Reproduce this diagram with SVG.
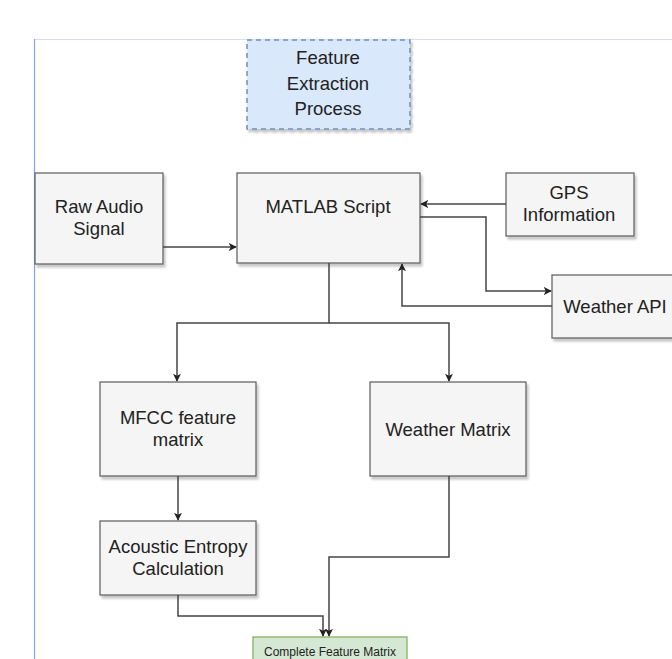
<svg xmlns="http://www.w3.org/2000/svg" width="672" height="659" viewBox="0 0 672 659">
<style>
.box{fill:#f5f5f5;stroke:#666666;stroke-width:1.3;filter:url(#sh)}
.t{font-family:"Liberation Sans",Arial,sans-serif;font-size:18.5px;fill:#222;text-anchor:middle;dominant-baseline:central}
.c{fill:none;stroke:#444;stroke-width:1.5}
</style>
<defs>
<filter id="sh" x="-10%" y="-10%" width="130%" height="130%">
<feDropShadow dx="2" dy="3" stdDeviation="1.2" flood-color="#000" flood-opacity="0.22"/>
</filter>
<marker id="a" viewBox="0 0 10 10" refX="9" refY="5" markerWidth="8" markerHeight="8" markerUnits="userSpaceOnUse" orient="auto">
<path d="M0,0 L10,5 L0,10 L2.5,5 Z" fill="#222"/>
</marker>
</defs>
<rect width="672" height="659" fill="#fff"/>
<line x1="34" y1="39.5" x2="672" y2="39.5" stroke="#d3def2" stroke-width="1"/>
<line x1="34.5" y1="39" x2="34.5" y2="659" stroke="#7ba6f2" stroke-width="1.2"/>

<g id="feature-extraction">
<rect x="247" y="40" width="163" height="89" fill="#dae8fc" stroke="#6c8ebf" stroke-width="1.5" stroke-dasharray="5,4" filter="url(#sh)"/>
<text class="t" x="328" y="57">Feature</text>
<text class="t" x="328" y="83">Extraction</text>
<text class="t" x="328" y="108">Process</text>
</g>

<g id="raw-audio">
<rect class="box" x="35" y="173" width="128" height="91"/>
<text class="t" x="99" y="206">Raw Audio</text>
<text class="t" x="99" y="228">Signal</text>
</g>

<g id="matlab">
<rect class="box" x="237" y="173" width="183" height="90"/>
<text class="t" x="328" y="206">MATLAB Script</text>
</g>

<g id="gps">
<rect class="box" x="506" y="173" width="128" height="63"/>
<text class="t" x="569" y="192">GPS</text>
<text class="t" x="569" y="214">Information</text>
</g>

<g id="weather-api">
<rect class="box" x="552" y="275" width="130" height="63"/>
<text class="t" x="615" y="306">Weather API</text>
</g>

<g id="mfcc">
<rect class="box" x="100" y="382" width="156" height="94"/>
<text class="t" x="178" y="417">MFCC feature</text>
<text class="t" x="178" y="439">matrix</text>
</g>

<g id="weather-matrix">
<rect class="box" x="370" y="382" width="156" height="94"/>
<text class="t" x="448" y="429">Weather Matrix</text>
</g>

<g id="acoustic-entropy">
<rect class="box" x="100" y="521" width="156" height="74"/>
<text class="t" x="178" y="546">Acoustic Entropy</text>
<text class="t" x="178" y="568">Calculation</text>
</g>

<g id="complete-feature-matrix">
<rect x="253" y="637" width="154" height="30" fill="#d5e8d4" stroke="#82b366" stroke-width="1.3"/>
<text class="t" x="330" y="652" style="font-size:12px">Complete Feature Matrix</text>
</g>

<g id="connectors">
<path class="c" d="M163,247 H236" marker-end="url(#a)"/>
<path class="c" d="M506,204 H421" marker-end="url(#a)"/>
<path class="c" d="M420,217 H486 V291 H551" marker-end="url(#a)"/>
<path class="c" d="M552,306 H402 V264" marker-end="url(#a)"/>
<path class="c" d="M329,263 V323 H177 V381" marker-end="url(#a)"/>
<path class="c" d="M329,323 H449 V381" marker-end="url(#a)"/>
<path class="c" d="M178,476 V520" marker-end="url(#a)"/>
<path class="c" d="M178,595 V616 H323 V636" marker-end="url(#a)"/>
<path class="c" d="M449,476 V557 H329 V636" marker-end="url(#a)"/>
</g>
</svg>
